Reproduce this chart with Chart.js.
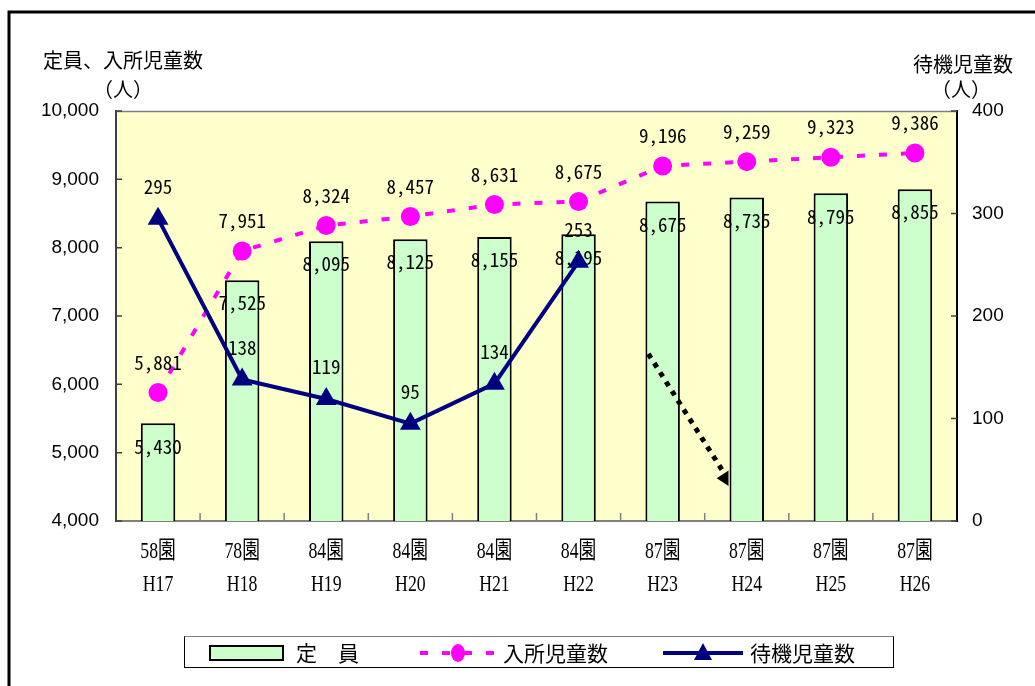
<!DOCTYPE html>
<html lang="ja">
<head>
<meta charset="utf-8">
<title>定員・入所児童数・待機児童数</title>
<script src="https://cdn.jsdelivr.net/npm/chart.js@4.4.1/dist/chart.umd.min.js"></script>
<style>
  html, body { margin: 0; padding: 0; background: #fff; }
  #chart { display: block; }
</style>
</head>
<body>
<canvas id="chart" width="1035" height="686"></canvas>
<script>
// 園数と年度（x軸ラベル2段）
const enSu = ["58園", "78園", "84園", "84園", "84園", "84園", "87園", "87園", "87園", "87園"];
const nendo = ["H17", "H18", "H19", "H20", "H21", "H22", "H23", "H24", "H25", "H26"];

// 定員（棒）、入所児童数（破線）、待機児童数（実線・右軸）
const teiin = [5430, 7525, 8095, 8125, 8155, 8195, 8675, 8735, 8795, 8855];
const nyusho = [5881, 7951, 8324, 8457, 8631, 8675, 9196, 9259, 9323, 9386];
const taiki = [295, 138, 119, 95, 134, 253, null, null, null, null];

// 軸の目盛り
const leftTicks = [4000, 5000, 6000, 7000, 8000, 9000, 10000];
const rightTicks = [0, 100, 200, 300, 400];

// H23→H24 の点線矢印（x: カテゴリ位置, y: 右軸の値）
const arrowFrom = [5.83, 163];
const arrowTo = [6.86, 30];

const labelFont = '19px "Noto Sans Mono CJK JP", "DejaVu Sans Mono", monospace';
const jpFont = '"Noto Sans CJK JP", sans-serif';

function fmt(v) {
  return v.toLocaleString("en-US");
}

function drawArrow(chart) {
  const ctx = chart.ctx;
  const a = chart.chartArea;
  const x = chart.scales.x, y1 = chart.scales.y1;
  // H24 の棒の左端で切る（元図では矢じりが棒に隠れている）
  const bar = chart.getDatasetMeta(0).data[7];
  const cut = bar.x - bar.width / 2;
  const x0 = x.getPixelForValue(arrowFrom[0]), yy0 = y1.getPixelForValue(arrowFrom[1]);
  const x1 = x.getPixelForValue(arrowTo[0]), yy1 = y1.getPixelForValue(arrowTo[1]);
  const len = Math.hypot(x1 - x0, yy1 - yy0);
  const ux = (x1 - x0) / len, uy = (yy1 - yy0) / len;
  const head = 20, half = 9;
  ctx.save();
  ctx.beginPath();
  ctx.rect(a.left, a.top, cut - a.left - 1, a.bottom - a.top);
  ctx.clip();
  ctx.strokeStyle = "#000";
  ctx.lineWidth = 5;
  ctx.setLineDash([5, 6]);
  ctx.beginPath();
  ctx.moveTo(x0, yy0);
  ctx.lineTo(x1 - ux * head, yy1 - uy * head);
  ctx.stroke();
  ctx.setLineDash([]);
  ctx.fillStyle = "#000";
  ctx.beginPath();
  ctx.moveTo(x1, yy1);
  ctx.lineTo(x1 - ux * head - uy * half, yy1 - uy * head + ux * half);
  ctx.lineTo(x1 - ux * head + uy * half, yy1 - uy * head - ux * half);
  ctx.closePath();
  ctx.fill();
  ctx.restore();
}

// 背景・枠・目盛り・ラベル・凡例
const framePlugin = {
  id: "frame",
  beforeDraw(chart) {
    const ctx = chart.ctx;
    const a = chart.chartArea;
    ctx.save();
    ctx.fillStyle = "#fff";
    ctx.fillRect(0, 0, chart.width, chart.height);
    ctx.strokeStyle = "#000";
    ctx.lineWidth = 3;
    ctx.beginPath();
    ctx.moveTo(9, chart.height);
    ctx.lineTo(9, 12);
    ctx.lineTo(chart.width, 12);
    ctx.stroke();
    ctx.fillStyle = "#FFFFCC";
    ctx.fillRect(a.left, a.top, a.right - a.left, a.bottom - a.top);
    ctx.restore();
  },
  beforeDatasetsDraw(chart) {
    const ctx = chart.ctx;
    const a = chart.chartArea;
    const x = chart.scales.x, y = chart.scales.y, y1 = chart.scales.y1;
    ctx.save();
    // 上辺
    ctx.strokeStyle = "#808080";
    ctx.lineWidth = 1.5;
    ctx.beginPath();
    ctx.moveTo(a.left, a.top + 0.5);
    ctx.lineTo(a.right, a.top + 0.5);
    ctx.stroke();
    // 内向きの目盛り
    ctx.strokeStyle = "#404040";
    ctx.beginPath();
    leftTicks.forEach(function (v) {
      const p = y.getPixelForValue(v);
      ctx.moveTo(a.left, p);
      ctx.lineTo(a.left + 6, p);
    });
    rightTicks.forEach(function (v) {
      const p = y1.getPixelForValue(v);
      ctx.moveTo(a.right, p);
      ctx.lineTo(a.right - 6, p);
    });
    ctx.stroke();
    ctx.strokeStyle = "#808080";
    ctx.beginPath();
    for (let i = 1; i < nendo.length; i++) {
      const p = x.getPixelForValue(i - 0.5);
      ctx.moveTo(p, a.bottom);
      ctx.lineTo(p, a.bottom - 8);
    }
    ctx.stroke();
    ctx.restore();
  },
  // データラベル（系列ごとに、その系列の直後に描く）
  afterDatasetDraw(chart, args) {
    const ctx = chart.ctx;
    const ds = chart.data.datasets[args.index];
    const offsets = { teiin: 23, nyusho: -30, taiki: -32 };
    if (ds.key === "teiin") drawArrow(chart);
    ctx.save();
    ctx.font = labelFont;
    ctx.fillStyle = "#000";
    ctx.textAlign = "center";
    ctx.textBaseline = "middle";
    args.meta.data.forEach(function (el, i) {
      const v = ds.data[i];
      if (v === null || el.skip) return;
      ctx.fillText(fmt(v), el.x, el.y + offsets[ds.key]);
    });
    ctx.restore();
  },
  afterDraw(chart) {
    const ctx = chart.ctx;
    const x = chart.scales.x;
    ctx.save();
    ctx.fillStyle = "#000";

    // 軸タイトル
    ctx.font = "20px " + jpFont;
    ctx.textBaseline = "middle";
    ctx.textAlign = "left";
    ctx.fillText("定員、入所児童数", 43, 60);
    ctx.fillText("（人）", 93, 89);
    ctx.fillText("待機児童数", 913, 64);
    ctx.fillText("（人）", 931, 89);

    // x軸ラベル（縦長の明朝風）
    ctx.font = '24px "Liberation Serif", "Noto Sans CJK JP", serif';
    ctx.textAlign = "center";
    nendo.forEach(function (n, i) {
      const px = x.getPixelForValue(i);
      ctx.save();
      ctx.translate(px, 0);
      ctx.scale(0.74, 1);
      ctx.fillText(enSu[i], 0, 552);
      ctx.fillText(n, 0, 585);
      ctx.restore();
    });

    // 凡例
    const [bar, dash, solid] = chart.data.datasets;
    ctx.lineWidth = 1;
    ctx.strokeStyle = "#000";
    ctx.strokeRect(184.5, 636.5, 709, 31);
    ctx.strokeStyle = "#808080";
    ctx.beginPath();
    ctx.moveTo(184.5, 636.5);
    ctx.lineTo(893.5, 636.5);
    ctx.stroke();

    const ly = 653;
    ctx.fillStyle = bar.backgroundColor;
    ctx.fillRect(210, 646, 73, 14);
    ctx.strokeStyle = "#000";
    ctx.lineWidth = 2;
    ctx.strokeRect(210, 646, 73, 14);

    ctx.strokeStyle = dash.borderColor;
    ctx.lineWidth = 4;
    ctx.setLineDash([8, 14]);
    ctx.beginPath();
    ctx.moveTo(420, ly);
    ctx.lineTo(497, ly);
    ctx.stroke();
    ctx.setLineDash([]);
    ctx.fillStyle = dash.borderColor;
    ctx.beginPath();
    ctx.ellipse(458, ly, 7, 9, 0, 0, Math.PI * 2);
    ctx.fill();

    ctx.strokeStyle = solid.borderColor;
    ctx.beginPath();
    ctx.moveTo(663, ly);
    ctx.lineTo(743, ly);
    ctx.stroke();
    ctx.fillStyle = solid.borderColor;
    ctx.beginPath();
    ctx.moveTo(703, ly - 10);
    ctx.lineTo(712, ly + 7);
    ctx.lineTo(694, ly + 7);
    ctx.closePath();
    ctx.fill();

    ctx.fillStyle = "#000";
    ctx.font = "21px " + jpFont;
    ctx.textAlign = "left";
    ctx.fillText("定　員", 296, ly);
    ctx.fillText(dash.label, 503, ly);
    ctx.fillText(solid.label, 750, ly);
    ctx.restore();
  }
};

const ctx = document.getElementById("chart").getContext("2d");
const chart = new Chart(ctx, {
  type: "bar",
  data: {
    labels: nendo,
    datasets: [
      {
        key: "teiin",
        label: "定員",
        type: "bar",
        data: teiin,
        yAxisID: "y",
        backgroundColor: "#CCFFCC",
        borderColor: "#000",
        borderWidth: 2,
        borderSkipped: false,
        categoryPercentage: 1,
        barPercentage: 0.41,
        order: 3,
      },
      {
        key: "nyusho",
        label: "入所児童数",
        type: "line",
        data: nyusho,
        yAxisID: "y",
        borderColor: "#FF00FF",
        borderWidth: 4,
        borderDash: [8, 14],
        pointStyle: "circle",
        pointRadius: 9.5,
        pointBackgroundColor: "#FF00FF",
        pointBorderWidth: 0,
        tension: 0,
        order: 2,
      },
      {
        key: "taiki",
        label: "待機児童数",
        type: "line",
        data: taiki,
        yAxisID: "y1",
        borderColor: "#000080",
        borderWidth: 4,
        pointStyle: "triangle",
        pointRadius: 12,
        pointBackgroundColor: "#000080",
        pointBorderWidth: 0,
        spanGaps: false,
        tension: 0,
        order: 1,
      },
    ],
  },
  options: {
    responsive: false,
    devicePixelRatio: 1,
    animation: false,
    events: [],
    layout: { padding: { top: 111, left: 0, right: 0, bottom: 0 } },
    plugins: {
      legend: { display: false },
      tooltip: { enabled: false },
    },
    scales: {
      x: {
        offset: true,
        grid: { display: false, drawTicks: false },
        border: { display: true, color: "#808080", width: 2 },
        ticks: { display: false },
        afterFit: function (s) { s.height = 165; },
      },
      y: {
        position: "left",
        min: 4000,
        max: 10000,
        grid: { display: false, drawTicks: false },
        border: { display: true, color: "#404040", width: 2 },
        afterBuildTicks: function (s) { s.ticks = leftTicks.map(function (v) { return { value: v }; }); },
        ticks: {
          padding: 17,
          color: "#000",
          font: { family: '"Liberation Sans", Arial, sans-serif', size: 19 },
          callback: function (v) { return fmt(v); },
        },
        afterFit: function (s) { s.width = 116; },
      },
      y1: {
        position: "right",
        min: 0,
        max: 400,
        grid: { display: false, drawTicks: false },
        border: { display: true, color: "#000", width: 2 },
        afterBuildTicks: function (s) { s.ticks = rightTicks.map(function (v) { return { value: v }; }); },
        ticks: {
          padding: 15,
          color: "#000",
          font: { family: '"Liberation Sans", Arial, sans-serif', size: 19 },
        },
        afterFit: function (s) { s.width = 78; },
      },
    },
  },
  plugins: [framePlugin],
});
</script>
</body>
</html>
